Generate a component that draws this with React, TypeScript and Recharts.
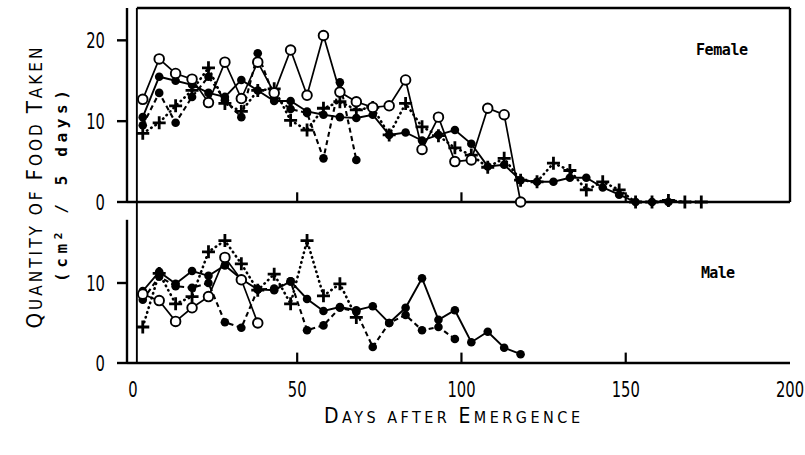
import { LineChart, Line, XAxis, YAxis, ReferenceLine } from "recharts";

// sampling days (5-day intervals)
const days = [3, 8, 13, 18, 23, 28, 33, 38, 43, 48, 53, 58, 63, 68, 73, 78, 83, 88, 93, 98, 103, 108, 113, 118, 123, 128, 133, 138, 143, 148, 153, 158, 163, 168, 173];

// Female panel
const femaleOpen = [12.7, 17.7, 15.9, 15.2, 12.3, 17.3, 12.8, 17.3, 13.5, 18.8, 13.2, 20.6, 13.6, 12.4, 11.7, 11.9, 15.1, 6.5, 10.5, 5.0, 5.2, 11.6, 10.8, 0];
const femaleSolid = [10.5, 15.5, 15.0, 14.5, 13.5, 13.0, 15.1, 13.8, 12.5, 12.5, 11.2, 10.8, 10.5, 10.4, 10.8, 8.3, 8.6, 7.6, 8.3, 8.9, 7.2, 4.4, 4.6, 2.7, 2.5, 2.5, 3.0, 3.0, 1.8, 0.9, 0, 0, 0];
const femaleDashed = [9.5, 13.5, 9.8, 13.0, 15.5, 12.6, 10.5, 18.4, 13.0, 11.5, 11.0, 5.4, 14.8, 5.2];
const femalePlus = [8.5, 9.8, 11.9, 13.8, 16.6, 12.2, 11.2, 13.8, 14.0, 10.1, 8.9, 11.6, 12.4, 11.4, 11.7, 8.3, 12.2, 9.3, 8.2, 6.7, 5.8, 4.3, 5.4, 2.7, 2.5, 4.8, 3.9, 1.5, 2.5, 1.5, 0, 0, 0.2, 0, 0];

// Male panel
const maleOpen = [8.6, 7.8, 5.2, 6.9, 8.3, 13.2, 10.4, 5.0];
const maleSolid = [9.0, 11.4, 9.9, 11.5, 10.9, 12.2, 10.5, 9.2, 9.1, 10.2, 8.0, 6.5, 7.0, 6.6, 7.1, 5.0, 6.9, 10.6, 5.4, 6.6, 2.6, 3.9, 1.9, 1.1];
const maleDashed = [7.9, 10.8, 9.6, 9.4, 10.0, 5.1, 4.4, 9.2, 9.3, 10.2, 4.1, 4.7, 6.9, 6.4, 2.0, 5.0, 6.0, 4.1, 4.5, 3.0];
const malePlus = [4.5, 11.2, 7.4, 8.3, 13.9, 15.3, 12.4, 9.1, 11.1, 7.4, 15.3, 8.4, 9.9, 5.7];

const xTicks = [0, 50, 100, 150, 200];
const innerTicks = [50, 100, 150];
const femaleYTicks = [0, 10, 20];
const maleYTicks = [0, 10];

const INK = "#000";
const NUM_FONT = "'Liberation Sans Narrow', 'DejaVu Sans Condensed', 'Liberation Sans', sans-serif";
const MONO = "'DejaVu Sans Mono', 'Liberation Mono', monospace";
const X_DOMAIN: [number, number] = [-1.8, 200];

function makeRows(open: number[], solid: number[], dashed: number[], plus: number[]) {
  return days.map((day, i) => ({
    day,
    open: open[i] ?? null,
    solid: solid[i] ?? null,
    dashed: dashed[i] ?? null,
    plus: plus[i] ?? null,
  }));
}

const femaleRows = makeRows(femaleOpen, femaleSolid, femaleDashed, femalePlus);
const maleRows = makeRows(maleOpen, maleSolid, maleDashed, malePlus);

function OpenDot(props: any) {
  const { cx, cy, value, index } = props;
  if (value == null || cy == null) return <g key={`o${index}`} />;
  return <circle key={`o${index}`} cx={cx} cy={cy} r={4.8} fill="#fff" stroke={INK} strokeWidth={1.9} />;
}

function FilledDot(props: any) {
  const { cx, cy, value, index, dataKey } = props;
  if (value == null || cy == null) return <g key={`f${dataKey}${index}`} />;
  return <circle key={`f${dataKey}${index}`} cx={cx} cy={cy} r={4.3} fill={INK} />;
}

function PlusDot(props: any) {
  const { cx, cy, value, index } = props;
  if (value == null || cy == null) return <g key={`p${index}`} />;
  return (
    <path
      key={`p${index}`}
      d={`M${cx - 6.5},${cy} H${cx + 6.5} M${cx},${cy - 6.5} V${cy + 6.5}`}
      stroke={INK}
      strokeWidth={2.8}
      fill="none"
    />
  );
}

// condensed numerals like the typeset original
function YTick(props: any) {
  const { x, y, payload } = props;
  return (
    <g transform={`translate(${x},${y})`}>
      <text transform="scale(0.82,1.05)" textAnchor="end" dy="0.36em" fontSize={20} fontFamily={NUM_FONT} fill={INK}>
        {payload.value}
      </text>
    </g>
  );
}

function XTick(props: any) {
  const { x, y, payload } = props;
  return (
    <g transform={`translate(${x},${y})`}>
      <text transform="scale(0.82,1.05)" textAnchor="middle" dy="0.72em" fontSize={20} fontFamily={NUM_FONT} fill={INK}>
        {payload.value}
      </text>
    </g>
  );
}

function Series() {
  return [
    <Line key="plus" type="linear" dataKey="plus" stroke={INK} strokeWidth={2.6} strokeDasharray="0.5 4.5" strokeLinecap="round" dot={PlusDot} activeDot={false} isAnimationActive={false} />,
    <Line key="dashed" type="linear" dataKey="dashed" stroke={INK} strokeWidth={2.1} strokeDasharray="5 3.5" dot={FilledDot} activeDot={false} isAnimationActive={false} />,
    <Line key="solid" type="linear" dataKey="solid" stroke={INK} strokeWidth={1.9} dot={FilledDot} activeDot={false} isAnimationActive={false} />,
    <Line key="open" type="linear" dataKey="open" stroke={INK} strokeWidth={1.7} dot={OpenDot} activeDot={false} isAnimationActive={false} />,
  ];
}

export default function App() {
  return (
    <div style={{ position: "absolute", left: 0, top: 0, width: 805, height: 455, background: "#fff" }}>
      {/* Female panel */}
      <div style={{ position: "absolute", left: 0, top: 0 }}>
        <LineChart width={805} height={215} data={femaleRows} margin={{ top: 8, right: 15, bottom: 0, left: 100 }}>
          <XAxis type="number" dataKey="day" domain={X_DOMAIN} ticks={xTicks} tick={false} tickLine={false} height={13} axisLine={{ stroke: INK, strokeWidth: 2.4 }} />
          <YAxis
            domain={[0, 24]}
            ticks={femaleYTicks}
            width={27}
            tickSize={10}
            tickMargin={12}
            tick={<YTick />}
            axisLine={{ stroke: INK, strokeWidth: 2.4 }}
            tickLine={{ stroke: INK, strokeWidth: 2.4 }}
          />
          <ReferenceLine segment={[{ x: 1.2, y: 0 }, { x: 1.2, y: 24 }]} stroke={INK} strokeWidth={1.9} />
          <ReferenceLine segment={[{ x: 1.2, y: 24 }, { x: 200, y: 24 }]} stroke={INK} strokeWidth={2.4} />
          <ReferenceLine segment={[{ x: 200, y: 0 }, { x: 200, y: 24 }]} stroke={INK} strokeWidth={2.4} />
          {innerTicks.map((t) => (
            <ReferenceLine key={t} segment={[{ x: t, y: 0 }, { x: t, y: 1.2 }]} stroke={INK} strokeWidth={2.2} />
          ))}
          {Series()}
        </LineChart>
      </div>

      {/* Male panel */}
      <div style={{ position: "absolute", left: 0, top: 0 }}>
        <LineChart width={805} height={455} data={maleRows} margin={{ top: 203, right: 15, bottom: 52, left: 100 }}>
          <XAxis
            type="number"
            dataKey="day"
            domain={X_DOMAIN}
            ticks={xTicks}
            height={40}
            tickLine={false}
            tickMargin={13}
            tick={<XTick />}
            axisLine={{ stroke: INK, strokeWidth: 2.4 }}
          />
          <YAxis
            domain={[0, 20]}
            ticks={maleYTicks}
            width={27}
            tickSize={10}
            tickMargin={12}
            tick={<YTick />}
            axisLine={false}
            tickLine={{ stroke: INK, strokeWidth: 2.4 }}
          />
          <ReferenceLine segment={[{ x: X_DOMAIN[0], y: 0 }, { x: X_DOMAIN[0], y: 17.9 }]} stroke={INK} strokeWidth={2.4} />
          <ReferenceLine segment={[{ x: 1.2, y: 0 }, { x: 1.2, y: 20 }]} stroke={INK} strokeWidth={1.9} />
          {innerTicks.map((t) => (
            <ReferenceLine key={t} segment={[{ x: t, y: 0 }, { x: t, y: 1.3 }]} stroke={INK} strokeWidth={2.2} />
          ))}
          {Series()}
        </LineChart>
      </div>

      {/* Titles and axis labels */}
      <svg width={805} height={455} style={{ position: "absolute", left: 0, top: 0, pointerEvents: "none" }}>
        <text x={722} y={55} textAnchor="middle" fontFamily={MONO} fontSize={15} fontWeight={600} fill={INK} textLength={52} lengthAdjust="spacing">Female</text>
        <text x={718} y={278} textAnchor="middle" fontFamily={MONO} fontSize={15} fontWeight={600} fill={INK} textLength={34} lengthAdjust="spacing">Male</text>

        <g transform="translate(42,188) rotate(-90)">
          <text x={0} y={0} textAnchor="middle" fontFamily={NUM_FONT} fill={INK} textLength={281} lengthAdjust="spacing">
            <tspan fontSize={22}>Q</tspan>
            <tspan fontSize={17}>UANTITY OF </tspan>
            <tspan fontSize={22}>F</tspan>
            <tspan fontSize={17}>OOD </tspan>
            <tspan fontSize={22}>T</tspan>
            <tspan fontSize={17}>AKEN</tspan>
          </text>
        </g>
        <g transform="translate(67,186) rotate(-90)">
          <text x={0} y={0} textAnchor="middle" fontFamily={MONO} fontSize={16} fontWeight={600} fill={INK} textLength={192} lengthAdjust="spacing">
            <tspan>(cm</tspan>
            <tspan fontSize={11} dy={-5}>2</tspan>
            <tspan dy={5}> / 5 days)</tspan>
          </text>
        </g>

        <text x={452} y={423} textAnchor="middle" fontFamily={NUM_FONT} fill={INK} textLength={256} lengthAdjust="spacing">
          <tspan fontSize={21}>D</tspan>
          <tspan fontSize={16}>AYS AFTER </tspan>
          <tspan fontSize={21}>E</tspan>
          <tspan fontSize={16}>MERGENCE</tspan>
        </text>
      </svg>
    </div>
  );
}
